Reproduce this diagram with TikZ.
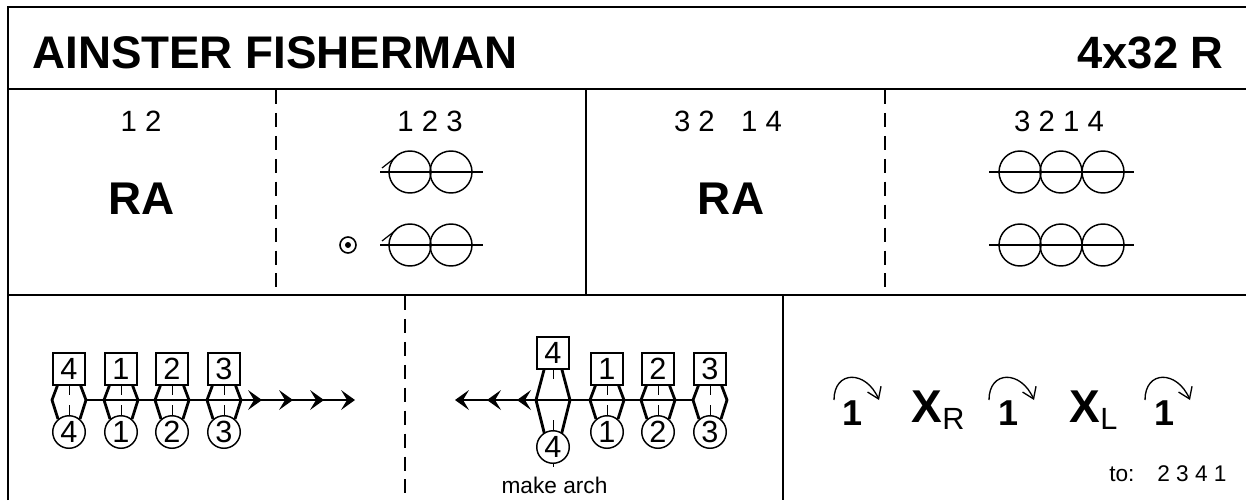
\documentclass[tikz,border=0pt]{standalone}
\usepackage{fontspec}
\setmainfont{Liberation Sans}
\usetikzlibrary{arrows.meta}
\tikzset{
  x=0.75pt,y=-0.75pt,
  rule/.style={line width=1.5},
  dashrule/.style={line width=1.5,dash pattern=on 10.5pt off 6.7pt},
  ring/.style={circle,draw,line width=1.1,minimum size=31.5,inner sep=0},
  small/.style={inner sep=0,font=\fontsize{22}{24}\selectfont},
  big/.style={inner sep=0,font=\fontsize{34.4}{36}\selectfont\bfseries},
  manbox/.style={draw,line width=1.1,minimum size=24.2,inner sep=0,fill=white,font=\fontsize{23}{24}\selectfont},
  womanc/.style={circle,draw,line width=1.1,minimum size=24.4,inner sep=0,fill=white,font=\fontsize{23}{24}\selectfont},
  wire/.style={line width=1.2},
  hand/.style={line width=2.1,line join=miter},
  tickl/.style={line width=0.7},
}
\newcommand{\chevR}[2]{\fill (#1-9,#2-10) -- (#1+5,#2) -- (#1-9,#2+10) -- (#1-3,#2) -- cycle;}
\newcommand{\chevL}[2]{\fill (#1+9,#2-10) -- (#1-5,#2) -- (#1+9,#2+10) -- (#1+3,#2) -- cycle;}
\newcommand{\couple}[6]{%
 \draw[hand] (#1-#6,#3+15) -- (#1-17,400) -- (#1-#6,#4-13);
 \draw[hand] (#1+#6,#3+15) -- (#1+17,400) -- (#1+#6,#4-13);
 \node[manbox] (m#5) at (#1,#3) {#2};
 \node[womanc] (w#5) at (#1,#4) {#2};
 \draw[tickl] (m#5.south) -- ++(0,9);
 \draw[tickl] (w#5.north) -- ++(0,-10);
}
\begin{document}
\begin{tikzpicture}
\useasboundingbox (0,0) rectangle (1246,500);
\fill[white] (0,0) rectangle (1246,500);
% frame
\draw[rule] (7.5,500) -- (7.5,7) -- (1246,7);
\draw[rule] (7.5,89) -- (1246,89);
\draw[rule] (7.5,295) -- (1246,295);
\draw[rule] (586,89) -- (586,295);
\draw[rule] (783,295) -- (783,500);
\draw[dashrule] (276,90) -- (276,289);
\draw[dashrule] (885,90) -- (885,289);
\draw[dashrule] (405,296) -- (405,500);
% title
\node[anchor=base west,inner sep=0,font=\fontsize{34.3}{36}\selectfont\bfseries] (title) at (32,68) {AINSTER FISHERMAN};
\node[anchor=base east,inner sep=0,font=\fontsize{34}{36}\selectfont\bfseries] (form) at (1224,68) {4x32 R};
% panel 1
\node[small] (n1) at (141,121) {1 2};
\node[big] (ra1) at (142,199) {RA};
% panel 2
\node[small] (n2) at (430,121) {1 2 3};
\foreach \yy/\nm in {172/a,245/b}{
  \node[ring] (c1\nm) at (410,\yy) {};
  \node[ring] (c2\nm) at (451,\yy) {};
  \draw[line width=1.1] (380,\yy) -- (483,\yy);
  \draw[line width=0.9] (382,\yy-4) -- (396,\yy-15);
}
\node[circle,draw,line width=1.2,minimum size=12,inner sep=0] (dot) at (348,245) {};
\fill (dot.center) circle (3);
% panel 3
\node[small] (n3) at (728,121) {3 2\hspace{0.9em}1 4};
\node[big] (ra2) at (731,199) {RA};
% panel 4
\node[small] (n4) at (1059,121) {3 2 1 4};
\foreach \yy/\nm in {172/c,245/d}{
  \node[ring] (d1\nm) at (1020,\yy) {};
  \node[ring] (d2\nm) at (1061,\yy) {};
  \node[ring] (d3\nm) at (1103,\yy) {};
  \draw[line width=1.1] (989,\yy) -- (1134,\yy);
}
% bottom left
\coordinate (lineA) at (86,400);
\coordinate (endA) at (352,400);
\couple{69}{4}{369}{432}{A}{11}
\couple{121}{1}{369}{432}{B}{11}
\couple{172}{2}{369}{432}{C}{11}
\couple{224}{3}{369}{432}{D}{11}
\draw[wire] (lineA) -- (endA);
\chevR{257}{400}\chevR{288}{400}\chevR{319}{400}\chevR{350}{400}
% bottom middle
\coordinate (lineB) at (693,400);
\coordinate (endB) at (459,400);
\couple{553}{4}{353}{447}{E}{8.5}
\couple{607}{1}{369}{432}{F}{11}
\couple{658}{2}{369}{432}{G}{11}
\couple{710}{3}{369}{432}{H}{11}
\draw[wire] (lineB) -- (endB);
\draw[tickl] (wE.south) -- ++(0,3);
\chevL{460}{400}\chevL{492}{400}\chevL{522}{400}
\node[inner sep=0,font=\fontsize{17}{18}\selectfont] (arch) at (554.5,485) {make arch};
% bottom right
\foreach \xx/\nm in {855/a,1010/b,1166/c}{
  \node[inner sep=0,font=\fontsize{27}{28}\selectfont\bfseries] (one\nm) at (\xx-2,413) {1};
  \coordinate (s\nm) at (\xx-21,400);
  \coordinate (e\nm) at (\xx+24,400);
  \draw[line width=1,-{Straight Barb[length=8pt,width=11pt,line width=1pt]}] (s\nm) .. controls (\xx-21,370) and (\xx+11,370) .. (e\nm);
}
\node[anchor=base west,inner sep=0,font=\fontsize{34.5}{36}\selectfont\bfseries] (x1) at (911,422) {X};
\node[anchor=base west,inner sep=0,font=\fontsize{23}{24}\selectfont] (x1s) at (942,429) {R};
\node[anchor=base west,inner sep=0,font=\fontsize{34.5}{36}\selectfont\bfseries] (x2) at (1069,422) {X};
\node[anchor=base west,inner sep=0,font=\fontsize{23}{24}\selectfont] (x2s) at (1100,429) {L};
\node[anchor=base west,inner sep=0,font=\fontsize{17}{18}\selectfont] (to) at (1109,481) {to:};
\node[anchor=base west,inner sep=0,font=\fontsize{17}{18}\selectfont] (dest) at (1157,481) {2 3 4 1};
\end{tikzpicture}
\end{document}
